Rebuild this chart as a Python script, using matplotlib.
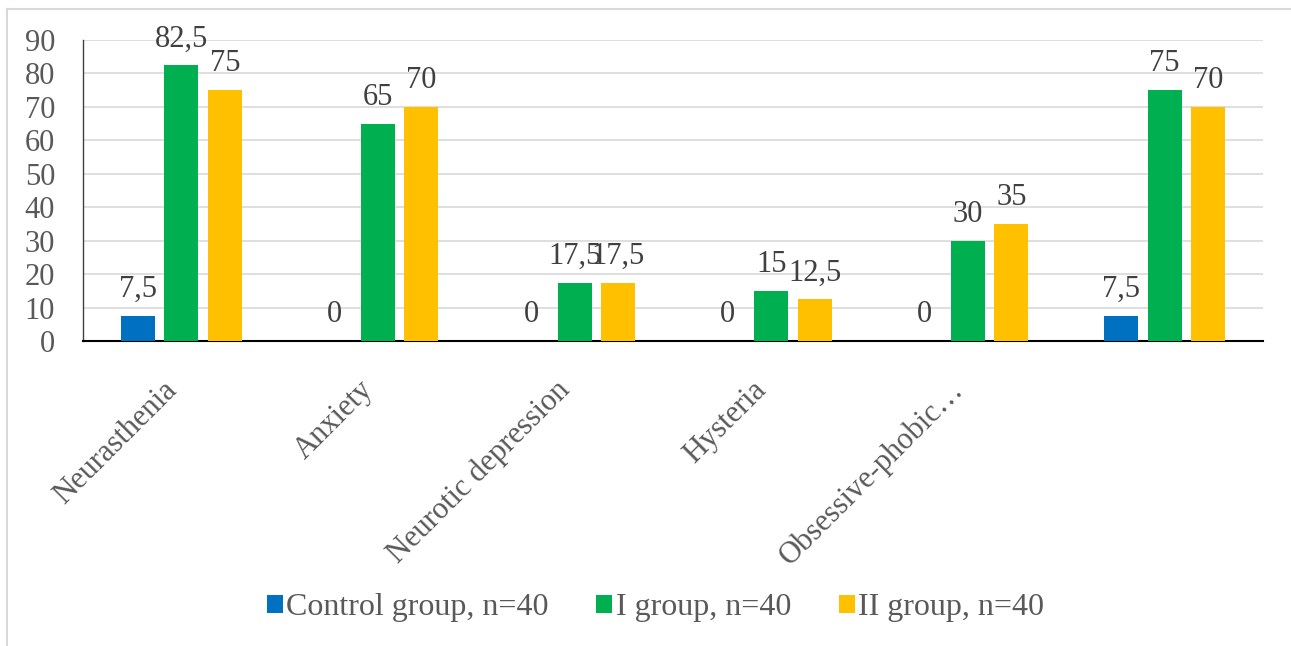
import numpy as np
import matplotlib.pyplot as plt
import matplotlib.transforms as mtransforms
from matplotlib.lines import Line2D

categories = ["Neurasthenia", "Anxiety", "Neurotic depression", "Hysteria",
              "Obsessive-phobic…", ""]
control = [7.5, 0, 0, 0, 0, 7.5]
group_1 = [82.5, 65, 17.5, 15, 30, 75]
group_2 = [75, 70, 17.5, 12.5, 35, 70]
series_names = ["Control group, n=40", "I group, n=40", "II group, n=40"]
colors = ["#0070C0", "#00B050", "#FFC000"]

plt.rcParams["font.family"] = ["Liberation Serif", "DejaVu Serif"]

W, H = 1291, 646
fig = plt.figure(figsize=(W / 100, H / 100), dpi=100)
ax = fig.add_axes([0.0643, 0.4721, 0.914, 0.4659])

# chart frame: only top and left edges show in the cropped picture
fig.lines.append(Line2D([7 / W, 1], [1 - 8.5 / H, 1 - 8.5 / H],
                        transform=fig.transFigure, color="#D9D9D9", lw=1.5))
fig.lines.append(Line2D([7 / W, 7 / W], [0, 1 - 8.5 / H],
                        transform=fig.transFigure, color="#D9D9D9", lw=1.5))

x = np.arange(len(categories))
width = 0.173
step = 0.221

for i, (vals, name, col) in enumerate(zip([control, group_1, group_2],
                                          series_names, colors)):
    pos = x + (i - 1) * step
    ax.bar(pos, vals, width=width, color=col, label=name, zorder=3)
    for px, v in zip(pos, vals):
        txt = f"{v:g}".replace(".", ",")
        ax.annotate(txt, (px, v), xytext=(0, 13.5), textcoords="offset points",
                    ha="center", va="baseline", fontsize=22, color="#404040")

ax.set_xlim(-0.5, len(categories) - 0.5)
ax.set_ylim(0, 90)
ax.set_yticks(range(0, 91, 10))
ax.yaxis.grid(True, color="#D9D9D9", linewidth=1.2, zorder=0)
ax.set_axisbelow(True)

for s in ["top", "right"]:
    ax.spines[s].set_visible(False)
ax.spines["left"].set_color("#404040")
ax.spines["left"].set_linewidth(1.0)
ax.spines["bottom"].set_color("black")
ax.spines["bottom"].set_linewidth(1.5)

ax.tick_params(axis="y", length=0, pad=20, labelsize=22, labelcolor="#595959")
ax.tick_params(axis="x", length=0, pad=32)
ax.set_xticks(x)
ax.set_xticklabels(categories, rotation=45, ha="right", va="center",
                   rotation_mode="anchor", fontsize=22, color="#595959")

# nudge the slanted labels a little to the left
shift = mtransforms.ScaledTranslation(-9 / 100, 0, fig.dpi_scale_trans)
for lbl in ax.get_xticklabels():
    lbl.set_transform(lbl.get_transform() + shift)

fig.legend(loc="center", bbox_to_anchor=(0.5 + 10 / W, 0.059), ncol=3,
           frameon=False, fontsize=23, labelcolor="#595959", handlelength=0.5,
           handleheight=0.5, handletextpad=0.1, columnspacing=1.5)

fig.savefig("out.png", dpi=100)
